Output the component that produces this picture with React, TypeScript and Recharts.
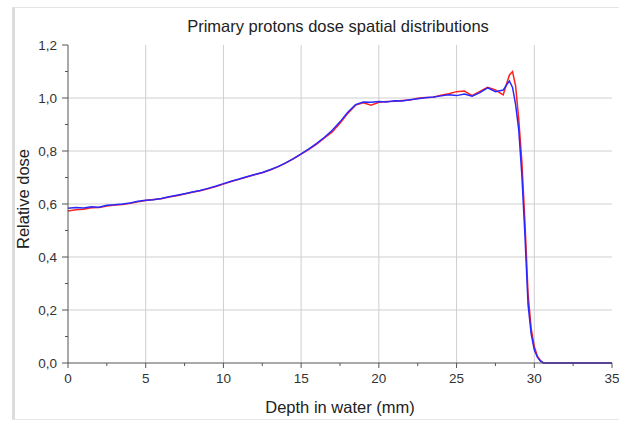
import React from "react";
import { LineChart, Line, XAxis, YAxis, ReferenceLine } from "recharts";

// depth in water (mm)
const depth = [
  0, 0.5, 1, 1.5, 2, 2.5, 3, 3.5, 4, 4.5, 5, 5.5, 6, 6.5, 7, 7.5, 8, 8.5, 9, 9.5,
  10, 10.5, 11, 11.5, 12, 12.5, 13, 13.5, 14, 14.5, 15, 15.5, 16, 16.5, 17, 17.5,
  18, 18.5, 19, 19.5, 20, 20.5, 21, 21.5, 22, 22.5, 23, 23.5, 24, 24.5, 25, 25.5,
  26, 26.5, 27, 27.5, 28, 28.2, 28.4, 28.6, 28.8, 29, 29.2, 29.4, 29.6, 29.8, 30,
  30.2, 30.4, 30.6, 31, 32, 33, 34, 35,
];

const redDose = [
  0.574, 0.578, 0.58, 0.586, 0.587, 0.592, 0.596, 0.598, 0.603, 0.608, 0.613, 0.617,
  0.62, 0.626, 0.631, 0.638, 0.644, 0.65, 0.657, 0.666, 0.675, 0.685, 0.693, 0.702,
  0.71, 0.718, 0.728, 0.74, 0.754, 0.77, 0.788, 0.806, 0.826, 0.849, 0.872, 0.905,
  0.942, 0.973, 0.982, 0.973, 0.984, 0.987, 0.988, 0.991, 0.992, 0.999, 1.002, 1.003,
  1.01, 1.016, 1.024, 1.026, 1.009, 1.025, 1.04, 1.03, 1.012, 1.05, 1.087, 1.1,
  1.045, 0.92, 0.76, 0.53, 0.26, 0.13, 0.062, 0.026, 0.009, 0, 0, 0, 0, 0, 0,
];

const blueDose = [
  0.584, 0.587, 0.585, 0.59, 0.588, 0.595, 0.597, 0.6, 0.604, 0.61, 0.614, 0.616,
  0.621, 0.627, 0.633, 0.639, 0.645, 0.651, 0.659, 0.667, 0.677, 0.686, 0.694, 0.703,
  0.711, 0.719, 0.729, 0.741, 0.755, 0.771, 0.789, 0.808, 0.829, 0.852, 0.878, 0.91,
  0.946, 0.975, 0.985, 0.984, 0.987, 0.985, 0.99, 0.989, 0.993, 0.997, 1.001, 1.004,
  1.008, 1.012, 1.009, 1.015, 1.007, 1.02, 1.038, 1.024, 1.03, 1.048, 1.064, 1.04,
  0.975, 0.88, 0.71, 0.48, 0.22, 0.11, 0.05, 0.022, 0.007, 0, 0, 0, 0, 0, 0,
];

const xTicks = [0, 2.5, 5, 7.5, 10, 12.5, 15, 17.5, 20, 22.5, 25, 27.5, 30, 32.5, 35];
const yTicks = [0, 0.1, 0.2, 0.3, 0.4, 0.5, 0.6, 0.7, 0.8, 0.9, 1.0, 1.1, 1.2];
const xGrid = [5, 10, 15, 20, 25, 30];
const yGrid = [0.2, 0.4, 0.6, 0.8, 1.0];

const data = depth.map((d, i) => ({ depth: d, red: redDose[i], blue: blueDose[i] }));

const FONT = "'Liberation Sans', Arial, sans-serif";
const AXIS = "#555";

const XTick = (props: any) => {
  const { x, y, payload } = props;
  const v = payload.value;
  const major = Math.round(v * 2) % 10 === 0;
  return (
    <g>
      <line x1={x} x2={x} y1={y} y2={y + (major ? 5 : 3)} stroke={AXIS} />
      {major && (
        <text x={x} y={y + 20} textAnchor="middle" fill="#333" fontSize={13.5} fontFamily={FONT}>
          {v}
        </text>
      )}
    </g>
  );
};

const YTick = (props: any) => {
  const { x, y, payload } = props;
  const v = payload.value;
  const major = Math.round(v * 10) % 2 === 0;
  return (
    <g>
      <line x1={x - (major ? 6 : 3)} x2={x} y1={y} y2={y} stroke={AXIS} />
      {major && (
        <text x={x - 11} y={y + 4.5} textAnchor="end" fill="#333" fontSize={13.5} fontFamily={FONT}>
          {v.toFixed(1).replace(".", ",")}
        </text>
      )}
    </g>
  );
};

const YTitle = (props: any) => {
  const { viewBox } = props;
  const cx = viewBox.x + 5;
  const cy = viewBox.y + viewBox.height / 2 - 5;
  return (
    <text
      x={cx}
      y={cy}
      transform={`rotate(-90 ${cx} ${cy})`}
      textAnchor="middle"
      dominantBaseline="central"
      fontSize={16.5}
      fill="#222"
      fontFamily={FONT}
    >
      Relative dose
    </text>
  );
};

const XTitle = (props: any) => {
  const { viewBox } = props;
  const cx = viewBox.x + viewBox.width / 2;
  return (
    <text x={cx} y={viewBox.y + 50} textAnchor="middle" fontSize={16.5} fill="#222" fontFamily={FONT}>
      Depth in water (mm)
    </text>
  );
};

export default function App() {
  return (
    <div style={{ position: "absolute", left: 0, top: 0, width: 619, height: 421, background: "#fff" }}>
      <div
        style={{
          position: "absolute",
          left: 12,
          top: 7,
          width: 620,
          height: 411,
          borderLeft: "3px solid #dcdcdc",
          borderTop: "1px solid #e4e4e4",
          borderBottom: "1px solid #e8e8e8",
        }}
      />
      <div
        style={{
          position: "absolute",
          left: 66,
          width: 544,
          top: 17,
          textAlign: "center",
          fontFamily: FONT,
          fontSize: 16.5,
          color: "#222",
        }}
      >
        Primary protons dose spatial distributions
      </div>
      <div style={{ position: "absolute", left: 0, top: 0 }}>
        <LineChart width={619} height={421} data={data} margin={{ top: 45, right: 7, bottom: 28, left: 18 }}>
          {xGrid.map((g) => (
            <ReferenceLine key={"x" + g} x={g} stroke="#cfcfcf" />
          ))}
          {yGrid.map((g) => (
            <ReferenceLine key={"y" + g} y={g} stroke="#cfcfcf" />
          ))}
          <XAxis
            dataKey="depth"
            type="number"
            domain={[0, 35]}
            ticks={xTicks}
            interval={0}
            height={30}
            tickSize={0}
            tickMargin={0}
            tick={<XTick />}
            stroke={AXIS}
            label={{ content: <XTitle /> }}
          />
          <YAxis
            type="number"
            domain={[0, 1.2]}
            ticks={yTicks}
            interval={0}
            width={50}
            tickSize={0}
            tickMargin={0}
            tick={<YTick />}
            stroke={AXIS}
            label={{ content: <YTitle /> }}
          />
          <Line dataKey="red" stroke="#ff2020" strokeWidth={1.5} dot={false} isAnimationActive={false} />
          <Line dataKey="blue" stroke="#2828ff" strokeWidth={1.5} dot={false} isAnimationActive={false} />
        </LineChart>
      </div>
    </div>
  );
}
